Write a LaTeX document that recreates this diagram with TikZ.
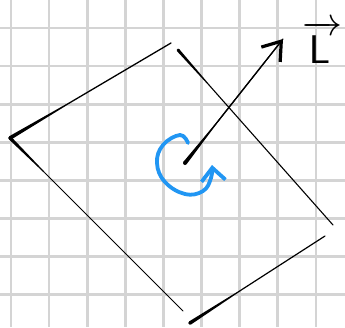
\documentclass[tikz,border=0pt]{standalone}
\usepackage{amsmath}
\usetikzlibrary{arrows.meta,calc}
\definecolor{sketchGrid}{RGB}{212,212,212}
\definecolor{sketchBlue}{RGB}{33,150,243}
% tapered pen stroke: from, to, half width at start, half width at end
\newcommand{\taper}[4]{%
  \fill ($(#1)!#3!90:(#2)$) -- ($(#2)!#4!-90:(#1)$) -- ($(#2)!#4!90:(#1)$)
        -- ($(#1)!#3!-90:(#2)$) -- cycle;
  \fill (#1) circle (#3);}
% pen stroke: thick start over a fraction #5, then a thin line
\newcommand{\pen}[5]{%
  \coordinate (penMid) at ($(#1)!#5!(#2)$);
  \taper{#1}{penMid}{#3}{#4}
  \draw[line width=2*#4, line cap=round] (penMid) -- (#2);}

\begin{document}
\begin{tikzpicture}[
  x=1pt, y=-1pt,
  gridline/.style={draw=sketchGrid, line width=2.6pt},
  shaft/.style={line width=1.2pt, line cap=round,
                -{Straight Barb[length=17pt,width=24pt,line width=3.2pt]}},
  spin/.style={draw=sketchBlue, line width=3.8pt, line cap=round, line join=round,
               -{Straight Barb[length=13pt,width=24pt]}}
]
\useasboundingbox (0,0) rectangle (345,327);
\fill[white] (0,0) rectangle (345,327);
\foreach \i in {0,...,8}
  \draw[gridline] ({11+38.1*\i},0) -- ({11+38.1*\i},327);
\foreach \j in {0,...,7}
  \draw[gridline] (0,{28+38.1*\j}) -- (345,{28+38.1*\j});

% corners of the plate
\coordinate (left) at (10,138);
\coordinate (topEnd) at (171,43);
\coordinate (lowEnd) at (183,311);
\coordinate (rightStart) at (178,50);
\coordinate (rightEnd) at (333,225);
\coordinate (baseStart) at (190,323);
\coordinate (baseEnd) at (325,236);
\coordinate (centre) at (185,163);
\coordinate (tip) at (283,39);

\pen{left}{topEnd}{1.9pt}{0.65pt}{0.35}
\pen{left}{lowEnd}{1.7pt}{0.5pt}{0.2}
\pen{rightStart}{rightEnd}{1.5pt}{0.55pt}{0.2}
\pen{baseStart}{baseEnd}{1.8pt}{0.6pt}{0.35}

% angular momentum
\pen{centre}{tip}{2pt}{0.6pt}{0.3}
\draw[shaft] (centre) -- (tip);
\node[anchor=base west, inner sep=0pt, scale=4]
  (ell) at (302,63) {$\overrightarrow{\mathsf{L}\,}$};

% rotation
\draw[spin] plot[smooth, tension=0.7] coordinates
  {(188,143) (180,135) (163,145) (157,163) (165,182) (185,194) (203,191) (211,178) (212,165)};
\end{tikzpicture}
\end{document}
